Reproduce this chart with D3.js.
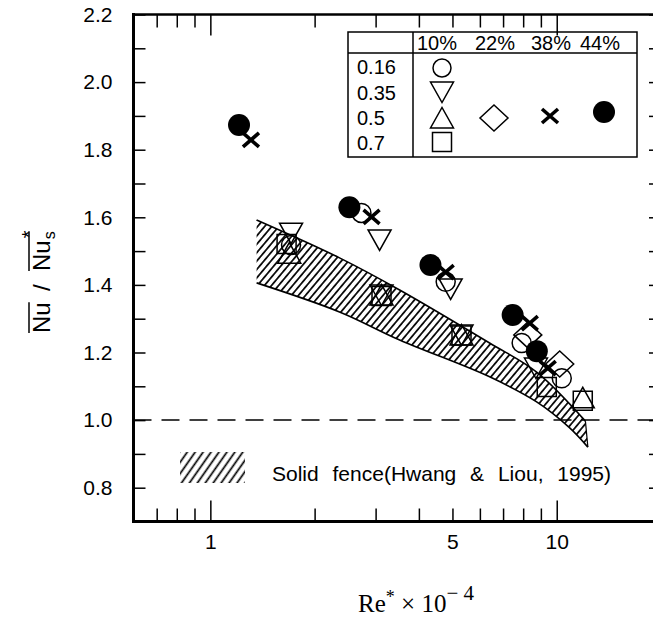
<!DOCTYPE html>
<html><head><meta charset="utf-8">
<script src="https://cdn.jsdelivr.net/npm/d3@7"></script>
<style>body{margin:0;background:#fff}svg{display:block}</style>
</head><body>
<svg id="chart" width="653" height="620"></svg>
<script>
// ---------- data ----------
const reTicks = [0.7, 0.8, 0.9, 1, 2, 3, 4, 5, 6, 7, 8, 9, 10];
const reMajorTicks = [1, 10];
const reTickLabels = [1, 5, 10];
const nuTicks = [0.8, 0.9, 1.0, 1.1, 1.2, 1.3, 1.4, 1.5, 1.6, 1.7, 1.8, 1.9, 2.0, 2.1, 2.2];
const nuTickLabels = [0.8, 1.0, 1.2, 1.4, 1.6, 1.8, 2.0, 2.2];
const porosityLabels = ["10%", "22%", "38%", "44%"];
const spacingLabels = ["0.16", "0.35", "0.5", "0.7"];

const circle016Re = [1.71, 2.73, 4.78, 7.92, 10.34];
const circle016Nu = [1.518, 1.613, 1.409, 1.228, 1.124];
const triDown035Re = [1.71, 3.08, 3.12, 4.94, 5.31, 8.71];
const triDown035Nu = [1.553, 1.533, 1.370, 1.388, 1.252, 1.154];
const triUp05Re = [1.69, 3.12, 5.31, 11.89];
const triUp05Nu = [1.494, 1.370, 1.252, 1.066];
const square07Re = [1.66, 3.12, 5.31, 9.36, 11.89];
const square07Nu = [1.521, 1.367, 1.250, 1.098, 1.057];
const diamond22Re = [8.25, 10.2];
const diamond22Nu = [1.252, 1.166];
const cross38Re = [1.31, 2.92, 4.78, 8.36, 9.42];
const cross38Nu = [1.829, 1.601, 1.438, 1.287, 1.154];
const filled44Re = [1.21, 2.52, 4.32, 7.46, 8.76];
const filled44Nu = [1.873, 1.630, 1.459, 1.311, 1.204];

const bandUpperRe = [1.36, 2.36, 3.52, 6.40, 8.75, 12.1];
const bandUpperNu = [1.592, 1.480, 1.385, 1.228, 1.142, 0.997];
const bandLowerRe = [1.36, 2.36, 3.52, 6.40, 8.75, 10.9, 12.3];
const bandLowerNu = [1.406, 1.320, 1.237, 1.128, 1.054, 0.977, 0.920];
const referenceLine = 1.0;
const bandLegendText = "Solid fence(Hwang & Liou, 1995)";

// ---------- setup ----------
const font = "'Liberation Sans', Arial, sans-serif";
const serif = "'Liberation Serif', 'Times New Roman', serif";
const svg = d3.select("#chart");
const x = d3.scaleLog().domain([0.6, 20]).range([133.5, 661]);
const y = d3.scaleLinear().domain([0.7, 2.2]).range([521.5, 14.5]);
const pL = 133.5, pR = 661, pT = 14.5, pB = 521.5;

const defs = svg.append("defs");
const p1 = defs.append("pattern").attr("id", "hatch").attr("patternUnits", "userSpaceOnUse")
  .attr("width", 5.4).attr("height", 10).attr("patternTransform", "rotate(40)");
p1.append("line").attr("x1", 2.7).attr("x2", 2.7).attr("y1", 0).attr("y2", 10)
  .attr("stroke", "#000").attr("stroke-width", 1.7);
const p2 = defs.append("pattern").attr("id", "hatch2").attr("patternUnits", "userSpaceOnUse")
  .attr("width", 6.5).attr("height", 10).attr("patternTransform", "rotate(35)");
p2.append("line").attr("x1", 3.2).attr("x2", 3.2).attr("y1", 0).attr("y2", 10)
  .attr("stroke", "#000").attr("stroke-width", 1.7);

// ---------- band ----------
const upperPts = bandUpperRe.map((r, i) => [x(r), y(bandUpperNu[i])]);
const lowerPts = bandLowerRe.map((r, i) => [x(r), y(bandLowerNu[i])]);
const lg = d3.line().curve(d3.curveCatmullRom.alpha(0.5));
const upPath = lg(upperPts);
const lowRev = lg(lowerPts.slice().reverse());
svg.append("path").attr("d", upPath + "L" + lowRev.slice(1) + "Z").attr("fill", "url(#hatch)");
svg.append("path").attr("d", upPath).attr("fill", "none").attr("stroke", "#000").attr("stroke-width", 1.6);
svg.append("path").attr("d", lg(lowerPts)).attr("fill", "none").attr("stroke", "#000").attr("stroke-width", 1.6);
svg.append("line")
  .attr("x1", upperPts[upperPts.length - 1][0]).attr("y1", upperPts[upperPts.length - 1][1])
  .attr("x2", lowerPts[lowerPts.length - 1][0]).attr("y2", lowerPts[lowerPts.length - 1][1])
  .attr("stroke", "#000").attr("stroke-width", 1.2);

// ---------- dashed reference line ----------
svg.append("line").attr("x1", pL).attr("x2", pR).attr("y1", y(referenceLine)).attr("y2", y(referenceLine))
  .attr("stroke", "#000").attr("stroke-width", 1.5).attr("stroke-dasharray", "18,10");

// ---------- markers ----------
const shapes = {
  triDown: "M-11.5,-10L11.5,-10L0,10.5Z",
  triUp: "M-11.5,10L11.5,10L0,-10.5Z",
  square: "M-9.5,-9.5h19v19h-19Z",
  diamond: "M0,-13L14,0L0,13L-14,0Z",
  cross: "M-8,-7L8,7M-8,7L8,-7"
};
function openShape(g, res, nus, d) {
  g.selectAll(null).data(res).enter().append("path")
    .attr("transform", (r, i) => `translate(${x(r)},${y(nus[i])})`)
    .attr("d", d).attr("fill", "none").attr("stroke", "#000").attr("stroke-width", 1.5);
}
const mg = svg.append("g");
mg.selectAll(null).data(circle016Re).enter().append("circle")
  .attr("cx", d => x(d)).attr("cy", (d, i) => y(circle016Nu[i])).attr("r", 9.5)
  .attr("fill", "none").attr("stroke", "#000").attr("stroke-width", 1.5);
openShape(mg, triDown035Re, triDown035Nu, shapes.triDown);
openShape(mg, triUp05Re, triUp05Nu, shapes.triUp);
openShape(mg, square07Re, square07Nu, shapes.square);
openShape(mg, diamond22Re, diamond22Nu, shapes.diamond);
mg.selectAll(null).data(cross38Re).enter().append("path")
  .attr("transform", (r, i) => `translate(${x(r)},${y(cross38Nu[i])})`)
  .attr("d", shapes.cross).attr("fill", "none").attr("stroke", "#000").attr("stroke-width", 3.6);
mg.selectAll(null).data(filled44Re).enter().append("circle")
  .attr("cx", d => x(d)).attr("cy", (d, i) => y(filled44Nu[i])).attr("r", 11).attr("fill", "#000");

// ---------- axes ----------
const tickStyle = g => {
  g.select(".domain").remove();
  g.selectAll(".tick line").attr("stroke", "#000").attr("stroke-width", 1.5);
  g.selectAll(".tick text").attr("fill", "#000").style("font-family", font).style("font-size", "21px");
};
const isMajorRe = d => reMajorTicks.includes(d);
const bx = svg.append("g").attr("transform", `translate(0,${pB})`)
  .call(d3.axisBottom(x).tickValues(reTicks).tickSize(-13).tickPadding(13)
    .tickFormat(d => reTickLabels.includes(d) ? String(d) : ""));
tickStyle(bx);
bx.selectAll(".tick line").attr("y2", d => isMajorRe(d) ? -21 : -13);
const tx = svg.append("g").attr("transform", `translate(0,${pT})`)
  .call(d3.axisTop(x).tickValues(reTicks).tickSize(-13).tickFormat(""));
tickStyle(tx);
tx.selectAll(".tick line").attr("y2", d => isMajorRe(d) ? 21 : 13);
const ly = svg.append("g").attr("transform", `translate(${pL},0)`)
  .call(d3.axisLeft(y).tickValues(nuTicks).tickSize(-12).tickPadding(21)
    .tickFormat(d => nuTickLabels.some(v => Math.abs(v - d) < 1e-9) ? d.toFixed(1) : ""));
tickStyle(ly);
const ry = svg.append("g").attr("transform", `translate(${pR},0)`)
  .call(d3.axisRight(y).tickValues(nuTicks).tickSize(-12).tickFormat(""));
tickStyle(ry);

// frame
svg.append("line").attr("x1", pL).attr("x2", pL).attr("y1", pT - 1.5).attr("y2", pB + 1.5).attr("stroke", "#000").attr("stroke-width", 3);
svg.append("line").attr("x1", pL - 1.5).attr("x2", pR).attr("y1", pB).attr("y2", pB).attr("stroke", "#000").attr("stroke-width", 3);
svg.append("line").attr("x1", pL - 1.5).attr("x2", pR).attr("y1", pT).attr("y2", pT).attr("stroke", "#000").attr("stroke-width", 2.5);
svg.append("line").attr("x1", pR).attr("x2", pR).attr("y1", pT).attr("y2", pB).attr("stroke", "#000").attr("stroke-width", 2.5);

// ---------- legend table ----------
const lgG = svg.append("g").style("font-family", font).style("font-size", "20px");
lgG.append("rect").attr("x", 348).attr("y", 32).attr("width", 289).attr("height", 125)
  .attr("fill", "none").attr("stroke", "#000").attr("stroke-width", 1.5);
lgG.append("line").attr("x1", 413).attr("x2", 413).attr("y1", 32).attr("y2", 157).attr("stroke", "#000").attr("stroke-width", 1.5);
lgG.append("line").attr("x1", 348).attr("x2", 637).attr("y1", 53).attr("y2", 53).attr("stroke", "#000").attr("stroke-width", 1.5);
const colX = [437, 495, 551, 600];
porosityLabels.forEach((t, i) => lgG.append("text").attr("x", colX[i]).attr("y", 50)
  .attr("text-anchor", "middle").text(t));
const rowY = [74, 100, 125, 150];
spacingLabels.forEach((t, i) => lgG.append("text").attr("x", 357).attr("y", rowY[i]).text(t));
lgG.append("circle").attr("cx", 442).attr("cy", 68).attr("r", 9).attr("fill", "none").attr("stroke", "#000").attr("stroke-width", 1.5);
[["triDown", 442, 92], ["triUp", 442, 118], ["square", 442, 142], ["diamond", 494, 118]].forEach(([s, cx, cy]) =>
  lgG.append("path").attr("transform", `translate(${cx},${cy})`).attr("d", shapes[s])
    .attr("fill", "none").attr("stroke", "#000").attr("stroke-width", 1.5));
lgG.append("path").attr("transform", "translate(550,116)").attr("d", shapes.cross)
  .attr("fill", "none").attr("stroke", "#000").attr("stroke-width", 3.6);
lgG.append("circle").attr("cx", 604).attr("cy", 112).attr("r", 11).attr("fill", "#000");

// band legend
svg.append("rect").attr("x", 180).attr("y", 452).attr("width", 65).attr("height", 31).attr("fill", "url(#hatch2)");
svg.append("text").attr("x", 272).attr("y", 481).style("font-family", font).style("font-size", "21px")
  .style("word-spacing", "8px").text(bandLegendText);

// ---------- axis titles ----------
const xt = svg.append("text").attr("x", 358).attr("y", 612).style("font-family", serif).style("font-size", "25px");
xt.append("tspan").text("Re");
xt.append("tspan").attr("dy", -9).style("font-size", "18px").text("*");
xt.append("tspan").attr("dy", 9).text(" \u00d7 10");
xt.append("tspan").attr("dy", -12).style("font-size", "21px").text("\u2212 4");

const yt = svg.append("g").attr("transform", "translate(50,275) rotate(-90)")
  .style("font-family", font).style("font-size", "24px");
const a = yt.append("text").attr("x", -58).attr("y", 0).text("Nu");
const aw = a.node().getComputedTextLength();
yt.append("line").attr("x1", -58).attr("x2", -58 + aw).attr("y1", -21).attr("y2", -21).attr("stroke", "#000").attr("stroke-width", 1.5);
yt.append("text").attr("x", -16).attr("y", 0).text("/");
const b = yt.append("text").attr("x", 4).attr("y", 0).text("Nu");
const bw = b.node().getComputedTextLength();
const s = yt.append("text").attr("x", 4 + bw + 1).attr("y", 5).style("font-size", "16px").text("s");
const sw = s.node().getComputedTextLength();
yt.append("text").attr("x", 4 + bw + 2).attr("y", -14).style("font-size", "20px").text("*");
yt.append("line").attr("x1", 4).attr("x2", 4 + bw + sw + 1).attr("y1", -21).attr("y2", -21).attr("stroke", "#000").attr("stroke-width", 1.5);
</script>
</body></html>
